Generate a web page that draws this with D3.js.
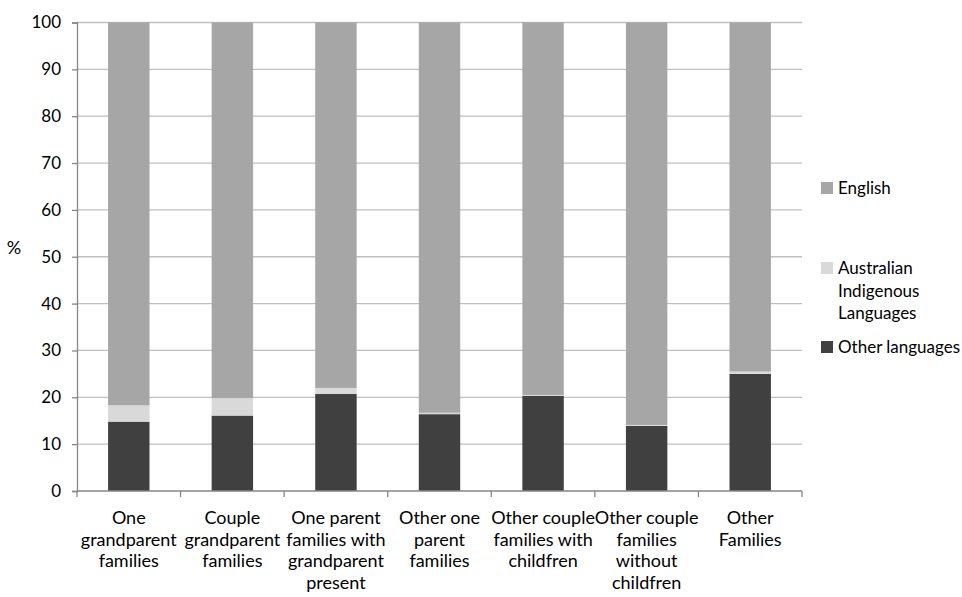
<!DOCTYPE html>
<html><head><meta charset="utf-8">
<script src="https://cdn.jsdelivr.net/npm/d3@7"></script>
<style>
html,body{margin:0;padding:0;background:#fff;}
svg{display:block;font-family:Lato, "Open Sans", sans-serif;}
</style></head>
<body><svg id="chart" width="962" height="597"></svg>
<script>
const categories = ["One grandparent families","Couple grandparent families","One parent families with grandparent present","Other one parent families","Other couple families with childfren","Other couple families without childfren","Other Families"];
const categoryLabelLines = [["One","grandparent","families"],["Couple","grandparent","families"],["One parent","families with","grandparent","present"],["Other one","parent","families"],["Other couple","families with","childfren"],["Other couple","families","without","childfren"],["Other","Families"]];
const otherLanguages = [14.8, 16.1, 20.7, 16.4, 20.3, 13.9, 25.0];
const indigenousLanguages = [3.5, 3.7, 1.3, 0.3, 0.2, 0.2, 0.5];
const english = [81.7, 80.2, 78.0, 83.3, 79.5, 85.9, 74.5];
const seriesNames = ["Other languages","Australian Indigenous Languages","English"];
const seriesLegendLines = [["Other languages"],["Australian","Indigenous","Languages"],["English"]];
const seriesColors = ["#404040","#d9d9d9","#a6a6a6"];
const yTicks = [0,10,20,30,40,50,60,70,80,90,100];

const svg = d3.select("#chart");
const mLeft = 77, mRight = 802, mTop = 22.5, mBottom = 491;
const fs = 17;

const data = categories.map((c,i)=>({cat:c, "Other languages":otherLanguages[i], "Australian Indigenous Languages":indigenousLanguages[i], "English":english[i]}));
const stack = d3.stack().keys(seriesNames)(data);

const x = d3.scaleBand().domain(categories).range([mLeft,mRight]).paddingInner(0.6).paddingOuter(0.3);
const y = d3.scaleLinear().domain([0,100]).range([mBottom,mTop]);

// gridlines
svg.append("g").selectAll("line").data(yTicks.filter(d=>d>0)).join("line")
  .attr("x1",mLeft).attr("x2",mRight).attr("y1",d=>y(d)).attr("y2",d=>y(d))
  .attr("stroke","#bfbfbf").attr("stroke-width",1.3);

// bars
svg.append("g").selectAll("g").data(stack).join("g")
  .attr("fill",(d,i)=>seriesColors[i])
  .selectAll("rect").data(d=>d).join("rect")
  .attr("x",d=>x(d.data.cat)).attr("width",x.bandwidth())
  .attr("y",d=>y(d[1])).attr("height",d=>Math.max(0,y(d[0])-y(d[1])));

// y axis
const yAxis = svg.append("g").attr("transform",`translate(${mLeft},0)`)
  .call(d3.axisLeft(y).tickValues(yTicks).tickSize(5).tickPadding(11));
yAxis.select(".domain").attr("stroke","#868686").attr("stroke-width",1.3);
yAxis.selectAll(".tick line").attr("stroke","#868686").attr("stroke-width",1.3);
yAxis.selectAll(".tick text").attr("font-size",fs).attr("fill","#000").attr("font-family","Lato");

// x axis
svg.append("line").attr("x1",mLeft).attr("x2",mRight).attr("y1",mBottom).attr("y2",mBottom)
  .attr("stroke","#868686").attr("stroke-width",1.3);
const step = x.step();
const boundX = i => i===0 ? mLeft : (i===categories.length ? mRight : x(categories[i]) - x.paddingInner()*step/2);
svg.append("g").selectAll("line").data(d3.range(categories.length+1)).join("line")
  .attr("x1",boundX).attr("x2",boundX)
  .attr("y1",mBottom).attr("y2",mBottom+6).attr("stroke","#868686").attr("stroke-width",1.3);

const lbl = svg.append("g").selectAll("text").data(categories).join("text")
  .attr("text-anchor","middle").attr("font-size",fs+1).attr("fill","#000")
  .attr("x",d=>x(d)+x.bandwidth()/2).attr("y",524);
lbl.each(function(d,i){
  d3.select(this).selectAll("tspan").data(categoryLabelLines[i]).join("tspan")
    .attr("x",x(d)+x.bandwidth()/2).attr("dy",(t,j)=>j===0?0:21.5).text(t=>t);
});

// y title
svg.append("text").attr("x",14).attr("y",254).attr("font-size",fs+1).attr("text-anchor","middle").text("%");

// legend (English on top)
const legendY = [188, 268, 347];
const order = [2,1,0];
const lg = svg.append("g");
order.forEach((si,k)=>{
  const cy = legendY[k];
  lg.append("rect").attr("x",821).attr("y",cy-6).attr("width",12).attr("height",12).attr("fill",seriesColors[si]);
  const t = lg.append("text").attr("x",838).attr("y",cy+6).attr("font-size",fs).attr("fill","#000");
  t.selectAll("tspan").data(seriesLegendLines[si]).join("tspan").attr("x",838).attr("dy",(s,j)=>j===0?0:22.5).text(s=>s);
});
</script></body></html>
